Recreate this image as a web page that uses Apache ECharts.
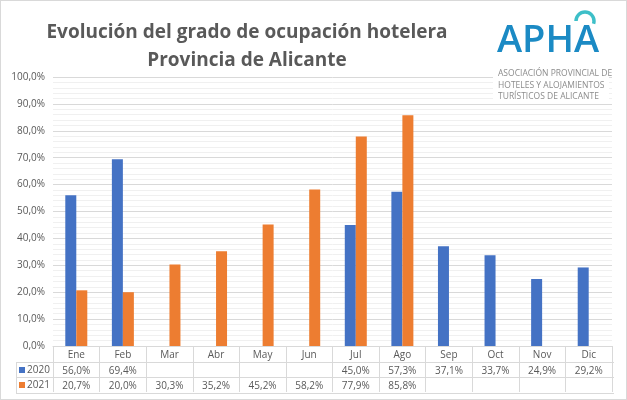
<!DOCTYPE html>
<html>
<head>
<meta charset="utf-8">
<script src="https://cdn.jsdelivr.net/npm/echarts@6/dist/echarts.min.js"></script>
<style>
  html, body { margin: 0; padding: 0; background: #fff; }
  #chart { width: 625px; height: 398px; border: 1px solid #d9d9d9; }
</style>
</head>
<body>
<div id="chart"></div>
<script>
// datos (ocupación %)
var months = ['Ene', 'Feb', 'Mar', 'Abr', 'May', 'Jun', 'Jul', 'Ago', 'Sep', 'Oct', 'Nov', 'Dic'];
var occ2020 = [56.0, 69.4, null, null, null, null, 45.0, 57.3, 37.1, 33.7, 24.9, 29.2];
var occ2021 = [20.7, 20.0, 30.3, 35.2, 45.2, 58.2, 77.9, 85.8, null, null, null, null];
var seriesNames = ['2020', '2021'];

var BLUE = '#4472C4';
var ORANGE = '#ED7D31';
var TXT = '#595959';

function pct(v) {
  return v == null ? '' : v.toFixed(1).replace('.', ',') + '%';
}

var chart = echarts.init(document.getElementById('chart'));

// eje de la tabla de datos (misma categoría, solo etiquetas)
function tableAxis(vals, offset) {
  return {
    type: 'category',
    gridIndex: 0,
    position: 'bottom',
    offset: offset,
    data: vals.map(pct),
    axisLine: { show: false },
    axisTick: { show: false },
    axisLabel: { interval: 0, color: TXT, fontSize: 10, fontFamily: 'Open Sans', margin: 4 }
  };
}

var option = {
  backgroundColor: '#fff',
  animation: false,
  grid: { left: 52, right: 14, top: 76, bottom: 53 },
  xAxis: [
    {
      type: 'category',
      data: months,
      axisLine: { lineStyle: { color: '#d9d9d9' } },
      axisTick: { show: true, interval: 0, length: 46, lineStyle: { color: '#d9d9d9' } },
      axisLabel: { interval: 0, color: TXT, fontSize: 10, fontFamily: 'Open Sans', margin: 4 }
    },
    tableAxis(occ2020, 16),
    tableAxis(occ2021, 31)
  ],
  yAxis: {
    type: 'value',
    min: 0,
    max: 100,
    interval: 10,
    axisLine: { show: false },
    axisTick: { show: false },
    axisLabel: {
      color: TXT, fontSize: 10, fontFamily: 'Open Sans', margin: 8,
      formatter: function (v) { return pct(v); }
    },
    splitLine: { lineStyle: { color: '#d9d9d9' } },
    minorTick: { show: false, splitNumber: 5 },
    minorSplitLine: { show: true, lineStyle: { color: '#f0f0f0' } }
  },
  series: [
    { name: seriesNames[0], type: 'bar', data: occ2020, barWidth: 11, barGap: '0%', itemStyle: { color: BLUE } },
    { name: seriesNames[1], type: 'bar', data: occ2021, barWidth: 11, barGap: '0%', itemStyle: { color: ORANGE } }
  ],
  graphic: [
    // título
    {
      type: 'text', z: 10,
      style: {
        text: 'Evolución del grado de ocupación hotelera\nProvincia de Alicante',
        x: 246, y: 18, align: 'center',
        font: 'bold 19px "Open Sans"', fill: TXT, lineHeight: 28
      }
    },
    // logo APHA
    {
      type: 'rect', z: 5, shape: { x: 492, y: 64, width: 116, height: 36 }, style: { fill: '#fff' }
    },
    {
      type: 'arc', z: 10, shape: { cx: 584, cy: 20, r: 9, startAngle: Math.PI, endAngle: Math.PI * 2.1 },
      style: { stroke: '#3dbfc8', lineWidth: 3.5, fill: null }
    },
    {
      type: 'text', z: 10, style: { text: 'APHA', x: 496, y: 21, font: '600 38px "Open Sans"', fill: '#1b8ac4' }
    },
    {
      type: 'text', z: 10,
      style: {
        text: 'ASOCIACIÓN PROVINCIAL DE\nHOTELES Y ALOJAMIENTOS\nTURÍSTICOS DE ALICANTE',
        x: 497, y: 67, font: '8.5px "Open Sans"', fill: '#8c8c8c', lineHeight: 11.5
      }
    }
  ]
};

chart.setOption(option);

// líneas de la tabla de datos y leyenda
var x0 = 15, x2 = 613;
var r1 = 361, r2 = 376, r3 = 392;
var lines = [];
function hline(xa, xb, y) {
  lines.push({ type: 'line', shape: { x1: xa, y1: y + 0.5, x2: xb, y2: y + 0.5 }, style: { stroke: '#d9d9d9', lineWidth: 1 } });
}
hline(x0, x2, r1);
hline(x0, x2, r2);
hline(x0, x2, r3);
lines.push({ type: 'line', shape: { x1: x0 + 0.5, y1: r1, x2: x0 + 0.5, y2: r3 }, style: { stroke: '#d9d9d9', lineWidth: 1 } });
[BLUE, ORANGE].forEach(function (c, i) {
  var yc = (i === 0 ? r1 : r2) + 8;
  lines.push({ type: 'rect', shape: { x: 18, y: yc - 3, width: 6, height: 6 }, style: { fill: c } });
  lines.push({ type: 'text', style: { text: seriesNames[i], x: 26, y: yc, verticalAlign: 'middle', font: '10px "Open Sans"', fill: TXT } });
});
chart.setOption({ graphic: option.graphic.concat(lines) });
</script>
</body>
</html>
